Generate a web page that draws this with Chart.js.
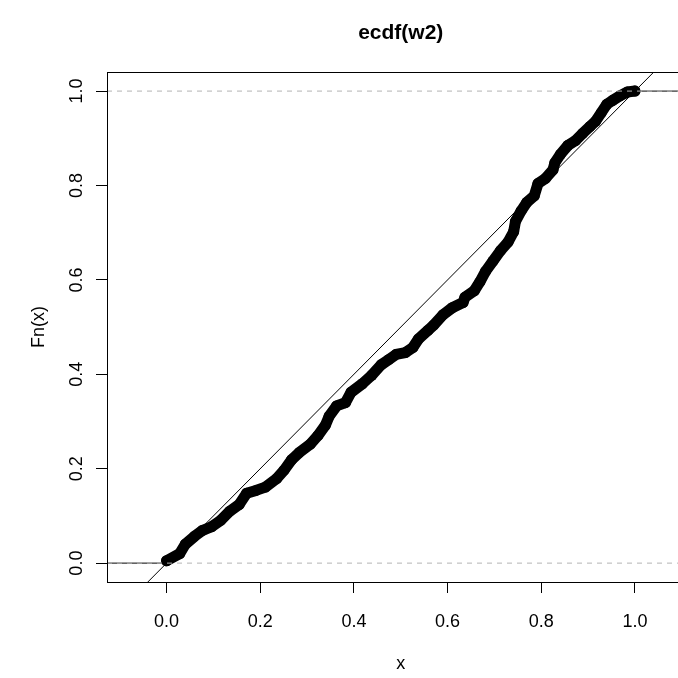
<!DOCTYPE html>
<html>
<head>
<meta charset="utf-8">
<script src="https://cdn.jsdelivr.net/npm/chart.js@4/dist/chart.umd.min.js"></script>
<style>
  html, body { margin: 0; padding: 0; background: #fff; overflow: hidden; }
  #wrap { position: absolute; left: 0; top: 0; width: 700px; height: 678px; }
</style>
</head>
<body>
<div id="wrap"><canvas id="chart" width="700" height="678"></canvas></div>
<script>
'use strict'

// ecdf knots (x, Fn(x))
const ecdfX = [0.000, 0.028, 0.040, 0.060, 0.076, 0.096, 0.116, 0.135, 0.155, 0.171,
               0.191, 0.211, 0.235, 0.251, 0.267, 0.283, 0.307, 0.323, 0.339, 0.347,
               0.363, 0.382, 0.394, 0.418, 0.438, 0.458, 0.474, 0.490, 0.510, 0.526,
               0.538, 0.558, 0.570, 0.590, 0.610, 0.633, 0.637, 0.657, 0.669, 0.681,
               0.697, 0.713, 0.729, 0.741, 0.745, 0.757, 0.769, 0.785, 0.793, 0.809,
               0.825, 0.829, 0.841, 0.857, 0.873, 0.888, 0.904, 0.916, 0.928, 0.940,
               0.952, 0.968, 0.984, 1.000];
const ecdfY = [0.005, 0.020, 0.040, 0.057, 0.069, 0.077, 0.091, 0.110, 0.124, 0.148,
               0.154, 0.161, 0.179, 0.197, 0.219, 0.234, 0.252, 0.270, 0.292, 0.311,
               0.333, 0.340, 0.362, 0.380, 0.398, 0.420, 0.431, 0.442, 0.446, 0.457,
               0.475, 0.493, 0.504, 0.526, 0.541, 0.552, 0.563, 0.577, 0.596, 0.618,
               0.640, 0.662, 0.680, 0.702, 0.724, 0.746, 0.764, 0.778, 0.804, 0.815,
               0.833, 0.848, 0.866, 0.885, 0.895, 0.910, 0.925, 0.936, 0.954, 0.972,
               0.980, 0.990, 0.998, 1.000];

const xTicks = [0, 0.2, 0.4, 0.6, 0.8, 1.0];
const yTicks = [0, 0.2, 0.4, 0.6, 0.8, 1.0];
const xLim = [-0.1272, 1.1272];
const yLim = [-0.04, 1.04];
const hLines = [0, 1];          // gray dashed reference levels
const abline = { a: 0, b: 1 };  // y = a + b x

const pts = ecdfX.map((x, i) => ({ x: x, y: ecdfY[i] }));

Chart.defaults.font.family = '"Liberation Sans", Arial, Helvetica, sans-serif';
Chart.defaults.color = '#000';

// box round the plot region, like R's box()
const boxPlugin = {
    id: 'box',
    afterDraw(chart) {
        const a = chart.chartArea;
        const c = chart.ctx;
        c.save();
        c.strokeStyle = '#000';
        c.lineWidth = 1;
        c.strokeRect(Math.round(a.left) + 0.5, Math.round(a.top) + 0.5,
                     Math.round(a.right - a.left), Math.round(a.bottom - a.top));
        c.restore();
    }
};

const datasets = [
    // gray dashed lines at 0 and 1
    ...hLines.map(h => ({
        data: [{ x: xLim[0], y: h }, { x: xLim[1], y: h }],
        showLine: true, borderColor: '#b3b3b3', borderWidth: 1,
        borderDash: [5, 5], pointRadius: 0, order: 0
    })),
    // abline(0, 1)
    {
        data: [{ x: (yLim[0] - abline.a) / abline.b, y: yLim[0] },
               { x: (yLim[1] - abline.a) / abline.b, y: yLim[1] }],
        showLine: true, borderColor: '#000', borderWidth: 1, pointRadius: 0, order: 1
    },
    // the ecdf points
    {
        data: pts, showLine: true, borderColor: '#000', borderWidth: 11,
        borderCapStyle: 'round', borderJoinStyle: 'round',
        backgroundColor: '#000', pointRadius: 5.5, pointBorderWidth: 0, order: 2
    },
    // flat tails of the step function
    {
        data: [{ x: xLim[0], y: 0 }, { x: ecdfX[0], y: 0 }],
        showLine: true, borderColor: '#000', borderWidth: 1, pointRadius: 0, order: 3
    },
    {
        data: [{ x: ecdfX[ecdfX.length - 1], y: 1 }, { x: xLim[1], y: 1 }],
        showLine: true, borderColor: '#000', borderWidth: 1, pointRadius: 0, order: 3
    }
];

const chart = new Chart(document.getElementById('chart'), {
    type: 'scatter',
    data: { datasets: datasets },
    plugins: [boxPlugin],
    options: {
        responsive: false,
        animation: false,
        events: [],
        layout: { padding: 0 },
        plugins: {
            legend: { display: false },
            tooltip: { enabled: false },
            title: {
                display: true, text: 'ecdf(w2)', fullSize: false,
                font: { size: 21, weight: 'bold' }, color: '#000',
                padding: { top: 21, bottom: 26 }
            }
        },
        scales: {
            x: {
                type: 'linear', min: xLim[0], max: xLim[1],
                afterBuildTicks: s => { s.ticks = xTicks.map(v => ({ value: v })); },
                afterFit: s => { s.height = 96; },
                ticks: { callback: v => v.toFixed(1), font: { size: 18 }, color: '#000', padding: 18, maxRotation: 0 },
                grid: { display: true, drawOnChartArea: false, drawTicks: true, tickLength: 11, tickColor: '#000', tickWidth: 1 },
                border: { display: false },
                title: { display: true, text: 'x', font: { size: 18 }, color: '#000', padding: { bottom: 3 } }
            },
            y: {
                type: 'linear', min: yLim[0], max: yLim[1],
                afterBuildTicks: s => { s.ticks = yTicks.map(v => ({ value: v })); },
                afterFit: s => { s.width = 107; },
                ticks: { callback: v => v.toFixed(1), font: { size: 18 }, color: '#000', padding: 6,
                         minRotation: 90, maxRotation: 90, crossAlign: 'center' },
                grid: { display: true, drawOnChartArea: false, drawTicks: true, tickLength: 11, tickColor: '#000', tickWidth: 1 },
                border: { display: false },
                title: { display: true, text: 'Fn(x)', font: { size: 18 }, color: '#000', padding: { top: 28 } }
            }
        }
    }
});
</script>
</body>
</html>
